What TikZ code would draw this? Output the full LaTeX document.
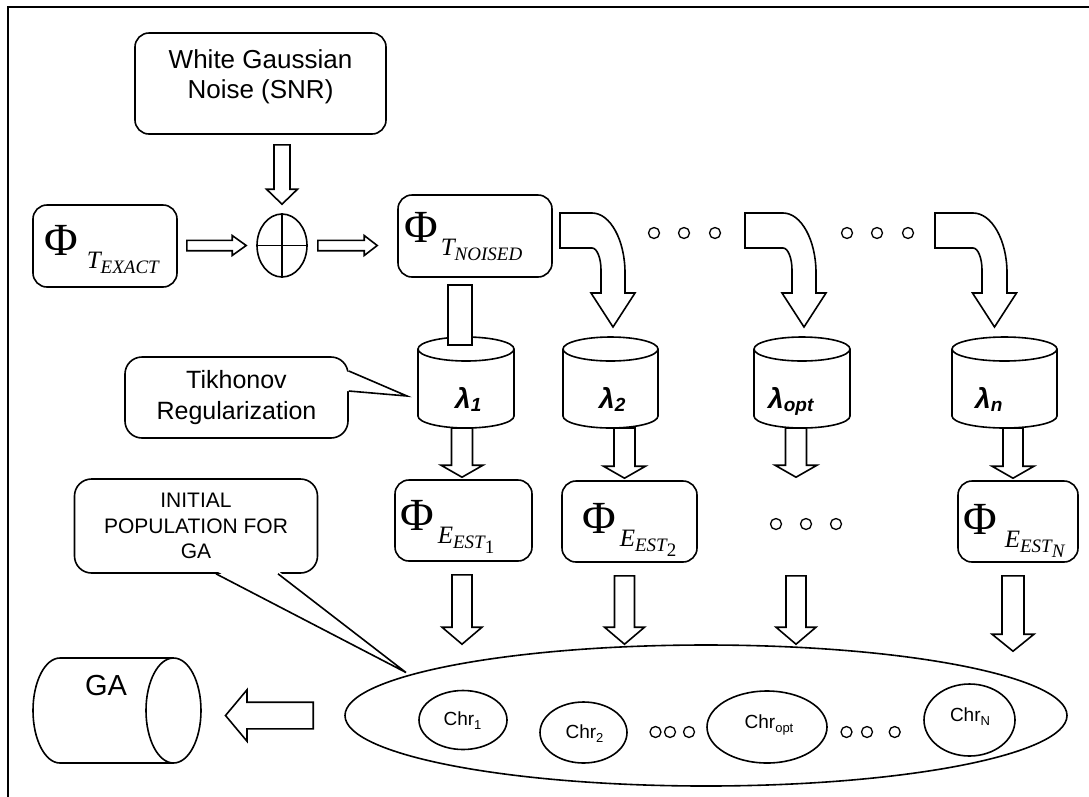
\documentclass[tikz,border=0pt]{standalone}
\usepackage{fontspec}
\setmainfont{Liberation Sans}
\newfontfamily\timesf{Liberation Serif}
\usetikzlibrary{shapes.geometric,calc}

% Phi with a two-level subscript: #1 gap, #2 letter, #3 subscript, #4 sub-subscript
\newcommand\philabel[4]{{\timesf\fontsize{46}{46}\selectfont Φ\hspace{#1}\raisebox{-13pt}{\fontsize{25}{25}\selectfont\itshape #2\raisebox{-5pt}{\fontsize{19}{19}\selectfont #3\raisebox{-5pt}{#4}}}}}
\newcommand\lamlabel[1]{{\fontsize{28}{28}\selectfont\bfseries\itshape λ\raisebox{-3pt}{\fontsize{19}{19}\selectfont #1}}}
\newcommand\chrlabel[1]{{\fontsize{19}{19}\selectfont Chr\raisebox{-4pt}{\fontsize{13}{13}\selectfont #1}}}

% upright cylinder: name, centre x, top y, bottom y, x radius, y radius
\newcommand\vcyl[6]{%
  \draw[shp] ({#2-#5},#3) -- ({#2-#5},#4)
    .. controls ({#2-#5},{#4+0.552*#6}) and ({#2-0.552*#5},{#4+#6}) .. (#2,{#4+#6})
    .. controls ({#2+0.552*#5},{#4+#6}) and ({#2+#5},{#4+0.552*#6}) .. ({#2+#5},#4)
    -- ({#2+#5},#3);
  \draw[shp] (#2,#3) ellipse[x radius=#5, y radius=#6];
  \coordinate (#1-bot) at (#2,{#4+#6});}

% hollow block arrow pointing down: from, tip, shaft half width, head half width, head length
\newcommand\blockdown[5]{%
  \draw[shp] let \p1=(#1), \p2=(#2) in
    ({\x2-#3},\y1) -- ({\x2+#3},\y1) -- ({\x2+#3},{\y2+#5}) -- ({\x2+#4},{\y2+#5})
    -- (\x2,\y2) -- ({\x2-#4},{\y2+#5}) -- ({\x2-#3},{\y2+#5}) -- cycle;}
% hollow block arrow, horizontal (negative head length points left)
\newcommand\blockside[5]{%
  \draw[shp] let \p1=(#1), \p2=(#2) in
    (\x1,{\y2-#3}) -- ({\x2-(#5)},{\y2-#3}) -- ({\x2-(#5)},{\y2-#4}) -- (\x2,\y2)
    -- ({\x2-(#5)},{\y2+#4}) -- ({\x2-(#5)},{\y2+#3}) -- (\x1,{\y2+#3}) -- cycle;}
% bent hollow arrow: left end, end of straight part, inner x, outer x, tip x
\newcommand\bendarrow[5]{%
  \draw[shp] (#1,213) -- (#2,213)
    .. controls ({#2+0.55*(#4-#2)},213) and (#4,{273-0.55*60}) .. (#4,273)
    -- (#4,293) -- ({#5+22},293) -- (#5,327) -- ({#5-22},293) -- (#3,293) -- (#3,270)
    .. controls (#3,{270-0.55*22}) and ({#2+0.55*(#3-#2)},248) .. (#2,248)
    -- (#1,248) -- cycle;}

\begin{document}
\begin{tikzpicture}[x=1pt,y=-1pt,
  shp/.style={draw, line width=1.6pt, fill=white, line join=miter},
  rbox/.style={shp, rounded corners=14pt, inner sep=0pt},
  callout/.style={shp, rounded corners=17pt, inner sep=0pt, align=center},
  ring/.style={draw, line width=1.6pt, ellipse, inner sep=0pt},
  dotc/.style={draw, circle, line width=1.3pt, minimum size=11pt, inner sep=0pt},
  lbl/.style={inner sep=0pt},
]
\useasboundingbox (0,0) rectangle (1089,796);
\draw[line width=1.5pt] (8,805) -- (8,7) -- (1095,7);

% axis of each column
\coordinate (c1) at (462,0);
\coordinate (c2) at (624.5,0);
\coordinate (copt) at (796,0);
\coordinate (cn) at (1013,0);

% noise source and summing junction
\node[rbox, minimum width=251pt, minimum height=101pt] (gnoise) at (260.5,83.5) {};
\node[lbl, align=center, font=\fontsize{26}{30}\selectfont] (gnoisetext) at (260.5,77) {White Gaussian\\Noise (SNR)};
\node[ring, minimum width=50pt, minimum height=63pt] (sum) at (282,245.5) {};
\draw[line width=1.6pt] (sum.north) -- (sum.south) (sum.west) -- (sum.east);

% temperature fields
\node[rbox, minimum width=144pt, minimum height=82pt] (texact) at (105,246) {};
\node[lbl, anchor=base west] (texactl) at (44,255) {\philabel{9pt}{T}{EXACT}{}};
\node[rbox, minimum width=154pt, minimum height=82pt] (tnoised) at (475,236) {};
\node[lbl, anchor=base west] (tnoisedl) at (404,242) {\philabel{3pt}{T}{NOISED}{}};

\blockdown{$(gnoise.south)+(0,10)$}{$(sum.north)+(0,-9)$}{8pt}{15.5pt}{15pt}
\blockside{$(texact.east)+(9,0)$}{$(sum.west)+(-10,0)$}{5.2pt}{10pt}{14pt}
\blockside{$(sum.east)+(10,0)$}{$(tnoised.west |- sum.east)+(-20,0)$}{5.2pt}{10pt}{13pt}

% bent arrows to the regularization parameters
\bendarrow{560}{592}{601}{625}{613}
\bendarrow{745}{783}{792}{816}{804}
\bendarrow{935}{973}{982}{1007}{994.5}
\foreach \i/\x in {1/654,2/684,3/715,4/847,5/877,6/908}
  \node[dotc] (tdot\i) at (\x,233) {};

% regularization parameters
\vcyl{cyl1}{466}{349}{416}{48}{12}
\vcyl{cyl2}{610.5}{349}{416}{47.5}{12}
\vcyl{cylopt}{802}{349}{416}{48}{12}
\vcyl{cyln}{1004.5}{349}{416}{52.5}{12}
\node[lbl, anchor=base west] (lam1) at (455,408) {\lamlabel{1}};
\node[lbl, anchor=base west] (lam2) at (599,408) {\lamlabel{2}};
\node[lbl, anchor=base west] (lamopt) at (768,408) {\lamlabel{opt}};
\node[lbl, anchor=base west] (lamn) at (975,408) {\lamlabel{n}};
\draw[shp] ($(tnoised.south)+(-27,7)$) rectangle ($(tnoised.south)+(-3,67)$);

% Tikhonov callout
\node[callout, minimum width=223pt, minimum height=81pt, font=\fontsize{25}{31}\selectfont] (tikh) at (236.5,397.5) {Tikhonov\\Regularization};
\coordinate (tikhtip) at (407,396);
\fill[white] ($(tikh.east)+(-3,-26.5)$) -- (tikhtip) -- ($(tikh.east)+(-3,-6.5)$) -- cycle;
\draw[line width=1.6pt] ($(tikh.east)+(0,-26.5)$) -- (tikhtip) -- ($(tikh.east)+(0,-6.5)$);

% estimated fields
\node[rbox, minimum width=137pt, minimum height=81pt] (e1) at (463.5,520.5) {};
\node[rbox, minimum width=135pt, minimum height=81pt] (e2) at (629.5,521.5) {};
\node[rbox, minimum width=120pt, minimum height=81pt] (eN) at (1018,521.5) {};
\node[lbl, anchor=base west] (e1l) at (400,530) {\philabel{4pt}{E}{EST}{\upshape 1}};
\node[lbl, anchor=base west] (e2l) at (582,533) {\philabel{4pt}{E}{EST}{\upshape 2}};
\node[lbl, anchor=base west] (eNl) at (963,534) {\philabel{8pt}{E}{EST}{N}};
\foreach \i/\x in {1/776,2/806,3/836}
  \node[dotc] (edot\i) at (\x,524) {};

\blockdown{c1 |- cyl1-bot}{$(c1 |- e1.north)+(0,-2)$}{10.5pt}{21pt}{12pt}
\blockdown{c2 |- cyl2-bot}{$(c2 |- e2.north)+(0,-2)$}{10.5pt}{21pt}{12pt}
\blockdown{copt |- cylopt-bot}{$(copt |- e1.north)+(0,-2)$}{10.5pt}{21pt}{12pt}
\blockdown{cn |- cyln-bot}{$(cn |- eN.north)+(0,-2)$}{10pt}{21pt}{12pt}

% initial population
\node[callout, minimum width=243pt, minimum height=94pt, font=\fontsize{21}{25.5}\selectfont] (initpop) at (196,526) {INITIAL\\POPULATION FOR\\GA};
\coordinate (poptip) at (406,672.5);
\fill[white] ($(initpop.south)+(20,-3)$) -- (poptip) -- ($(initpop.south)+(82,-3)$) -- cycle;
\draw[line width=1.6pt] ($(initpop.south)+(20,0)$) -- (poptip) -- ($(initpop.south)+(82,0)$);

\node[ring, minimum width=722pt, minimum height=141pt] (pop) at (706,715.5) {};
\blockdown{$(c1 |- e1.south)+(0,13)$}{c1 |- pop.north}{10pt}{20pt}{17pt}
\blockdown{$(c2 |- e2.south)+(0,13)$}{c2 |- pop.north}{10pt}{20pt}{17pt}
\blockdown{$(copt |- e2.south)+(0,13)$}{copt |- pop.north}{10pt}{20pt}{17pt}
\blockdown{$(cn |- eN.south)+(0,13)$}{$(cn |- pop.north)+(0,7)$}{11pt}{21pt}{17pt}

\node[ring, minimum width=88pt, minimum height=59pt] (chr1) at (463,720) {};
\node[ring, minimum width=87pt, minimum height=61pt] (chr2) at (583.5,732.5) {};
\node[ring, minimum width=120pt, minimum height=72pt] (chropt) at (767,727) {};
\node[ring, minimum width=91pt, minimum height=72pt] (chrN) at (969.5,720) {};
\node[lbl, anchor=base] (chr1t) at (462.5,725) {\chrlabel{1}};
\node[lbl, anchor=base] (chr2t) at (584.5,738) {\chrlabel{2}};
\node[lbl, anchor=base] (chroptt) at (769,728.5) {\chrlabel{opt}};
\node[lbl, anchor=base] (chrNt) at (970,721) {\chrlabel{N}};
\foreach \i/\x in {1/655.5,2/670,3/689,4/846.5,5/867,6/894.7}
  \node[dotc] (pdot\i) at (\x,732) {};

% genetic algorithm
\draw[shp] (173.5,658) -- (60,658)
  .. controls ({60-0.552*27},658) and (33,{710.5-0.552*52.5}) .. (33,710.5)
  .. controls (33,{710.5+0.552*52.5}) and ({60-0.552*27},763) .. (60,763) -- (173.5,763);
\draw[shp] (173.5,710.5) ellipse[x radius=27.5, y radius=52.5];
\coordinate (ga-east) at (201,714.5);
\node[lbl, font=\fontsize{29}{29}\selectfont] (ga) at (106,686) {GA};
\blockside{$(pop.west)+(-31,0)$}{$(ga-east |- pop.west)+(24.5,0)$}{13.3pt}{25.7pt}{-21.5pt}
\end{tikzpicture}
\end{document}
